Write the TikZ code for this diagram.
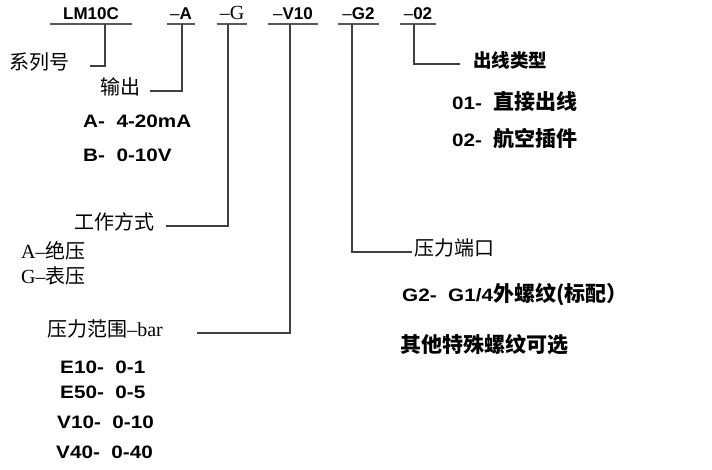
\documentclass[tikz,border=0pt]{standalone}
\usepackage{fontspec}
\setmainfont{Liberation Sans}
\newfontfamily\cjk{Noto Sans CJK SC}
\newfontfamily\tms{Liberation Serif}
\newfontfamily\wide{Liberation Sans}[FakeStretch=1.15]
\usetikzlibrary{calc}
\newcommand{\zh}[1]{{\fontsize{21}{21}\selectfont\cjk #1}}

\tikzset{
  code/.style={anchor=south, inner xsep=0pt, inner ysep=4pt, text depth=0pt,
    font=\fontsize{17}{17}\selectfont\bfseries},
  lbl/.style={inner sep=0pt, text height=0.88em, text depth=0.12em,
    font=\fontsize{20}{20}\selectfont\cjk},
  opt/.style={anchor=west, inner sep=0pt, text height=0.88em, text depth=0.12em,
    font=\fontsize{18}{18}\selectfont\wide\bfseries},
  uline/.style={draw=black!65, line width=1.1pt},
  lead/.style={draw=black!75, line width=1.2pt},
}

\begin{document}
\begin{tikzpicture}[x=1pt,y=-1pt]
\useasboundingbox (0,0) rectangle (712,470);

% model code
\node[code, minimum width=82pt] (lm) at (91,24) {LM10C};
\node[code, minimum width=28pt] (ca) at (181,24) {{\mdseries\textendash}A};
\node[code, minimum width=30pt, font=\fontsize{20}{20}\selectfont\tms] (cg) at (232,24) {\textendash G};
\node[code, minimum width=50pt] (cv) at (293,24) {{\mdseries\textendash}V10};
\node[code, minimum width=41pt] (cp) at (358.5,24) {{\mdseries\textendash}G2};
\node[code, minimum width=36pt] (co) at (418,24) {{\mdseries\textendash}02};
\foreach \n in {lm,ca,cg,cv,cp,co}
  \draw[uline] (\n.south west) -- (\n.south east);

\coordinate (t1) at ($(lm.south)+(14,0)$);
\coordinate (t2) at ($(ca.south)+(1,0)$);
\coordinate (t3) at ($(cg.south)+(-4,0)$);
\coordinate (t4) at ($(cv.south)+(-3,0)$);
\coordinate (t5) at ($(cp.south)+(-6.5,0)$);
\coordinate (t6) at ($(co.south)+(-4,0)$);

% series
\node[lbl, anchor=east] (xl) at (70,66) {系列号};
\draw[lead, shorten >=20pt] (t1) |- (xl.east);

% output
\node[lbl, anchor=east] (sc) at (141,91) {输出};
\draw[lead, shorten >=9pt] (t2) |- (sc.east);
\node[opt] (sa) at (83,124) {A-\ \ 4-20mA};
\node[opt] (sb) at (83,158) {B-\ \ 0-10V};

% mode
\node[lbl, anchor=east] (gz) at (155,226) {工作方式};
\draw[lead, shorten >=11pt] (t3) |- (gz.east);
\node[lbl, anchor=west] (ja) at (21,255) {{\tms A\textendash}绝压};
\node[lbl, anchor=west] (jb) at (21,280) {{\tms G\textendash}表压};

% range
\node[lbl, anchor=east] (fw) at (163,333) {压力范围{\tms\textendash bar}};
\draw[lead, shorten >=34pt] (t4) |- (fw.east);
\node[opt] (e1) at (60,370) {E10-\ \ 0-1};
\node[opt] (e5) at (60,395) {E50-\ \ 0-5};
\node[opt] (v1) at (57,425) {V10-\ \ 0-10};
\node[opt] (v4) at (56,455) {V40-\ \ 0-40};

% port
\node[lbl, anchor=west] (dk) at (414,252) {压力端口};
\draw[lead, shorten >=2pt] (t5) |- (dk.west);
\node[opt] (g2) at (402,298) {G2-\ \ G1/4\zh{外螺纹(标配）}};
\node[opt] (qt) at (400,349) {\zh{其他特殊螺纹可选}};

% cable
\node[lbl, anchor=west, font=\fontsize{18.5}{19}\selectfont\cjk\bfseries] (cx) at (473,64) {出线类型};
\draw[lead, shorten >=13pt] (t6) |- (cx.west);
\node[opt] (o1) at (452,106) {01-\ \ \zh{直接出线}};
\node[opt] (o2) at (452,143) {02-\ \ \zh{航空插件}};
\end{tikzpicture}
\end{document}
